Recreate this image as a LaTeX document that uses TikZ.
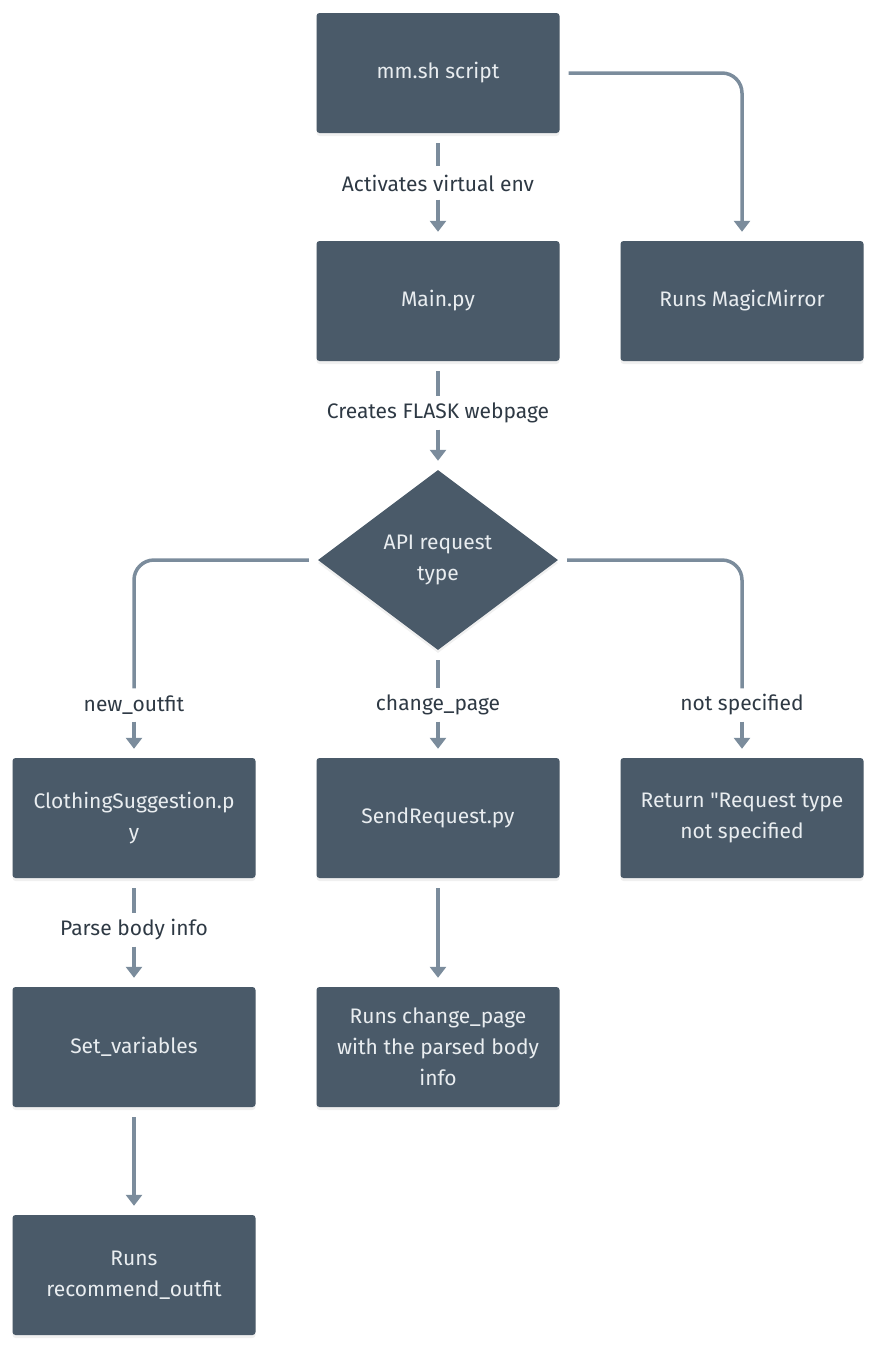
\documentclass[tikz,border=0pt]{standalone}
\usepackage{fontspec}
\setmainfont{Fira Sans}[Ligatures=TeXOff]
\usetikzlibrary{shapes.geometric,arrows.meta,shadows}
\definecolor{boxfill}{HTML}{4A5A69}
\definecolor{boxtext}{HTML}{E9EDF0}
\definecolor{linecol}{HTML}{7B8C9C}
\definecolor{labeltext}{HTML}{2E3944}
\begin{document}
\begin{tikzpicture}[x=1pt, y=-1pt, >={Triangle[width=16pt,length=11pt]}]
  \tikzstyle{stepnode}=[rectangle, fill=boxfill, text=boxtext, rounded corners=3pt,
    minimum width=243pt, minimum height=120pt, align=center,
    font=\fontsize{21}{31}\selectfont,
    drop shadow={opacity=0.12, shadow xshift=0pt, shadow yshift=-3pt}]
  \tikzstyle{decision}=[diamond, fill=boxfill, text=boxtext, inner sep=0pt,
    minimum width=240pt, minimum height=180pt, align=center,
    font=\fontsize{21}{31}\selectfont,
    drop shadow={opacity=0.12, shadow xshift=0pt, shadow yshift=-3pt}]
  \tikzstyle{steplabel}=[text=labeltext, inner sep=0pt, minimum height=33pt,
    font=\fontsize{21}{24}\selectfont]
  \tikzstyle{flow}=[draw=linecol, line width=3.5pt]

  \useasboundingbox (0,0) rectangle (877,1363);

  \node[stepnode] (mmsh) at (438, 73) {mm.sh script};

  \node[stepnode] (mainpy) at (438, 301) {Main.py};

  \node[stepnode] (magic) at (742, 301) {Runs MagicMirror};

  \node[decision] (api) at (438, 560) {API request\\type};

  \node[stepnode] (clothing) at (134, 818) {ClothingSuggestion.p\\y};

  \node[stepnode] (sendreq) at (438, 818) {SendRequest.py};

  \node[stepnode] (notspec) at (742, 818) {Return "Request type\\not specified};

  \node[stepnode] (setvars) at (134, 1047) {Set\_variables};

  \node[stepnode] (changepage) at (438, 1047) {Runs change\_page\\with the parsed body\\info};

  \node[stepnode] (recommend) at (134, 1275) {Runs\\recommend\_outfit};

  % labels on the connectors
  \node[steplabel] (activates) at (438, 183) {Activates virtual env};
  \node[steplabel] (flask) at (438, 413) {Creates FLASK webpage};
  \node[steplabel] (newoutfit) at (134, 705) {new\_outfit};
  \node[steplabel] (changelbl) at (438, 705) {change\_page};
  \node[steplabel] (notspeclbl) at (742, 705) {not specified};
  \node[steplabel] (parse) at (134, 930) {Parse body info};

  \draw[flow, shorten <=10pt] (mmsh) -- (activates);
  \draw[flow, ->, shorten >=9pt] (activates) -- (mainpy);
  \draw[flow, ->, rounded corners=20pt, shorten <=9pt, shorten >=9pt] (mmsh.east) -| (magic.north);

  \draw[flow, shorten <=10pt] (mainpy) -- (flask);
  \draw[flow, ->, shorten >=9pt] (flask) -- (api);

  \draw[flow, rounded corners=20pt, shorten <=9pt] (api.west) -| (newoutfit.north);
  \draw[flow, ->, shorten >=9pt] (newoutfit) -- (clothing);
  \draw[flow, shorten <=10pt] (api) -- (changelbl);
  \draw[flow, ->, shorten >=9pt] (changelbl) -- (sendreq);
  \draw[flow, rounded corners=20pt, shorten <=9pt] (api.east) -| (notspeclbl.north);
  \draw[flow, ->, shorten >=9pt] (notspeclbl) -- (notspec);

  \draw[flow, shorten <=10pt] (clothing) -- (parse);
  \draw[flow, ->, shorten >=9pt] (parse) -- (setvars);
  \draw[flow, ->, shorten <=10pt, shorten >=9pt] (setvars) -- (recommend);

  \draw[flow, ->, shorten <=10pt, shorten >=9pt] (sendreq) -- (changepage);

\end{tikzpicture}
\end{document}
